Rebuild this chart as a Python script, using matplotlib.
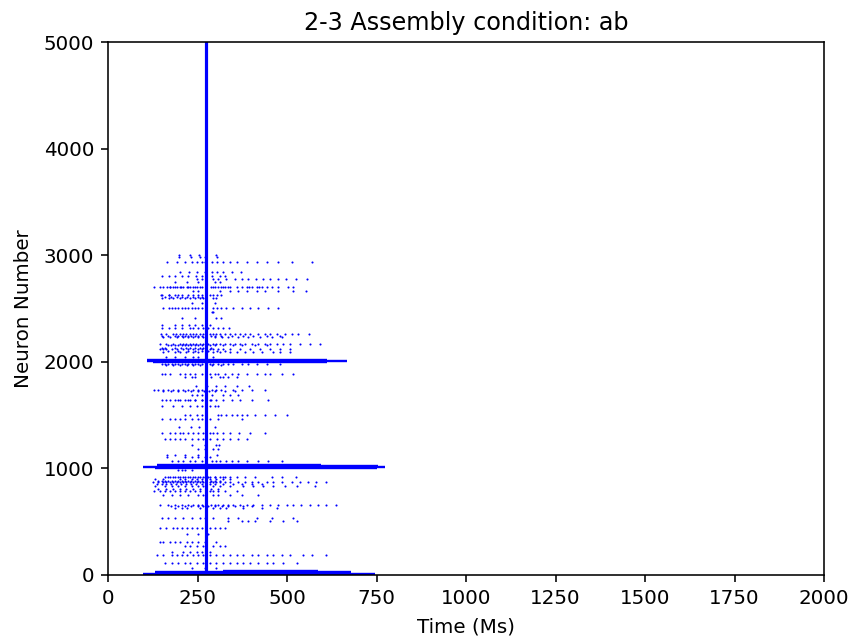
import matplotlib
matplotlib.use('Agg')
import matplotlib.pyplot as plt

# stimulus column, dense bands at the start of each 1000-neuron block
stim_time = 275
band_neurons = [2015, 2005, 1995, 1030, 1020, 1010, 1000, 36, 26, 12]
band_start = [108, 108, 125, 136, 136, 99, 130, 321, 131, 99]
band_end = [611, 667, 611, 595, 755, 774, 750, 587, 680, 745]

# neuron number of each sparse row, then its spike times (ms)
row_neurons = [3002, 2983, 2939, 2845, 2805, 2773, 2748, 2697, 2667, 2627, 2595, 2548, 2507, 2464, 2407,
               2345, 2314, 2260, 2236, 2167, 2117, 2089, 2048, 1979, 1883, 1860, 1776, 1733, 1686, 1642, 1585]
row_times = [
    [198, 229, 254, 302],
    [198, 231, 257, 271, 305],
    [166, 192, 215, 234, 248, 262, 271, 290, 305, 322, 341, 361, 387, 415, 443, 476, 513, 569],
    [201, 227, 248, 271, 290, 305, 322, 345, 371],
    [150, 169, 187, 206, 224, 246, 262, 290, 313, 327],
    [248, 262, 294, 308, 331, 355, 373, 392, 413, 434, 452, 476, 497, 524, 557],
    [187, 222, 252, 299, 313],
    [128, 145, 154, 164, 173, 182, 192, 201, 210, 220, 229, 238, 248, 257, 289, 299, 308, 317, 327, 341, 359, 373, 387, 401, 415, 429, 443, 457, 476, 503, 517],
    [238, 252, 313, 341, 364, 387, 415, 438, 476, 517, 553],
    [147, 152, 169, 171, 187, 196, 206, 224, 238, 252, 262, 285, 294, 305, 315],
    [150, 169, 182, 201, 215, 229, 243, 257, 266, 294, 301],
    [234, 262, 299],
    [153, 169, 178, 187, 196, 206, 215, 224, 234, 243, 252, 262, 294, 305, 317, 331, 350, 373, 397, 420, 448, 476],
    [290, 294],
    [208, 243, 302, 315],
    [152, 187, 206, 227, 243, 262, 285],
    [152, 169, 187, 206, 229, 238, 252, 266, 280, 294, 308, 322, 338],
    [147, 163, 182, 191, 201, 210, 219, 229, 238, 247, 257, 266, 285, 294, 303, 313, 327, 341, 355, 369, 382, 396, 420, 438, 452, 471, 494, 513, 531, 561],
    [154, 173, 192, 210, 224, 238, 252, 266, 299, 318, 336, 364, 392, 424, 457, 485],
    [145, 163, 182, 201, 210, 219, 229, 238, 247, 257, 266, 280, 294, 303, 313, 327, 341, 355, 369, 382, 401, 420, 438, 452, 471, 489, 508, 536, 564, 592],
    [145, 154, 163, 178, 192, 210, 224, 238, 252, 262, 285, 294, 308, 322, 341, 369, 396, 424, 452, 480, 508],
    [154, 187, 201, 219, 238, 252, 294, 313, 341, 359, 382, 405, 429, 461, 480, 508],
    [163, 187, 215, 238, 252, 294],
    [150, 159, 168, 178, 187, 196, 206, 215, 224, 234, 243, 252, 262, 285, 294, 308, 322, 336, 350, 373, 392, 415, 443, 480],
    [150, 159, 173, 201, 215, 229, 243, 262, 285, 299, 308, 327, 345, 364, 387, 415, 438, 452, 485, 517],
    [215, 234, 243, 289, 313, 322, 336, 359],
    [245, 277, 303, 327, 359, 394],
    [128, 140, 154, 168, 182, 196, 210, 224, 238, 252, 262, 290, 303, 317, 350, 373, 401, 438],
    [234, 248, 262, 290, 322, 341, 364],
    [152, 173, 187, 201, 215, 229, 243, 262, 285, 303, 322, 345, 369, 401, 448],
    [152, 182, 206, 229, 248, 262, 285, 299, 308],
]

lower_neurons = [1501, 1463, 1385, 1329, 1276, 1220, 1179, 1126, 1110, 1069, 985, 922, 901, 868, 835, 791,
                 755, 657, 631, 531, 510, 444, 385, 307, 272, 219, 188, 110, 68]
lower_times = [
    [215, 229, 248, 262, 308, 317, 331, 345, 359, 373, 387, 410, 438, 466, 499],
    [150, 173, 187, 201, 215, 234, 252, 262, 285, 308, 373],
    [198, 231, 254, 299],
    [152, 173, 187, 201, 210, 224, 238, 252, 266, 285, 294, 305, 322, 341, 367, 398, 438],
    [159, 173, 187, 201, 215, 234, 252, 266, 285, 305, 322, 341, 364, 387],
    [234, 271, 301, 311],
    [252, 271, 294, 308],
    [165, 187, 215, 252, 305],
    [164, 215, 234, 252, 271, 285],
    [178, 196, 210, 229, 243, 262, 290, 301, 313, 331, 345, 364, 387, 420, 448, 485],
    [196, 206, 215, 234],
    [159, 173, 187, 201, 215, 229, 243, 257, 271, 285, 299, 313, 327, 341, 359, 382, 410, 457, 485, 524],
    [131, 154, 201, 215, 234, 248, 262, 285, 303, 322, 341],
    [127, 140, 154, 163, 173, 182, 192, 201, 210, 219, 229, 238, 248, 257, 266, 285, 294, 303, 313, 327, 341, 364, 382, 401, 420, 443, 461, 485, 513, 536, 559, 582, 610],
    [131, 159, 178, 196, 215, 234, 252, 266, 294, 313, 341, 378, 405, 434, 461, 494, 527, 578],
    [128, 145, 159, 173, 187, 201, 215, 229, 243, 257, 285, 294, 308, 327, 359],
    [154, 178, 201, 224, 252, 266, 294, 308, 341, 373, 420],
    [145, 168, 187, 206, 224, 238, 252, 262, 289, 299, 308, 322, 336, 350, 369, 387, 406, 429, 452, 476, 499, 517, 540, 564, 587, 610, 638],
    [187, 206, 220, 257, 294, 313, 331, 378, 429, 471],
    [150, 168, 187, 210, 234, 257, 271, 294, 336, 364, 415, 457, 517],
    [336, 373, 392, 410, 452, 489, 527],
    [145, 163, 182, 192, 206, 220, 234, 248, 262, 285, 299, 313, 327],
    [221, 252, 280],
    [145, 154, 173, 187, 201, 220, 234, 252, 271, 303],
    [215, 229, 248, 266, 294, 313, 327],
    [178, 210, 229, 248, 262, 285],
    [136, 154, 178, 192, 206, 220, 238, 252, 266, 285, 303, 322, 341, 359, 378, 401, 420, 443, 461, 485, 508, 545, 569, 610],
    [159, 178, 196, 215, 229, 248, 266, 285, 303, 322, 341, 359, 378, 396, 420, 443, 461, 489, 527],
    [234, 271, 303],
]

# second dots that sit just beside the rows above in the busiest blocks
extra_neurons = [2705, 2605, 2245, 2160, 2130, 2100, 1970, 1725, 1640, 915, 885, 850, 810, 645]
extra_times = [
    [172, 186, 205, 224, 243, 262, 294, 322, 336, 394, 422],
    [159, 175, 192, 208, 222, 238, 250, 262],
    [150, 168, 186, 196, 206, 215, 224, 233, 243, 252, 262, 289, 299, 317, 345, 378, 406, 445, 480],
    [168, 177, 187, 196, 206, 215, 224, 233, 243, 252, 262, 285, 299, 322, 348, 375, 410, 445],
    [150, 159, 187, 205, 217, 229, 243, 257, 266, 289],
    [168, 196, 224, 243, 262, 280, 304, 327],
    [163, 182, 201, 220, 238, 257, 291, 315],
    [154, 177, 196, 215, 233, 252, 268, 283, 299, 327, 355],
    [163, 196, 224, 243, 262, 289],
    [168, 182, 196, 210, 224, 238, 252, 266, 280, 299, 322],
    [140, 150, 159, 168, 178, 187, 196, 206, 215, 224, 233, 243, 252, 262, 289, 299, 313],
    [136, 150, 163, 177, 191, 205, 219, 233, 247, 262, 285, 299, 322, 350, 375, 401, 429],
    [140, 163, 182, 201, 219, 238, 257, 289, 308],
    [177, 196, 215, 233, 252, 266, 280, 299, 318, 336, 355, 378, 401],
]

fig = plt.figure(figsize=(851 / 143, 636 / 143), dpi=143)
ax = fig.add_axes([108 / 851, 61 / 636, 716 / 851, 533 / 636])

for n, times in zip(row_neurons + lower_neurons + extra_neurons, row_times + lower_times + extra_times):
    ax.plot(times, [n] * len(times), '.', color='b', markersize=2.1, markeredgewidth=0)

ax.hlines(band_neurons, band_start, band_end, color='b', linewidth=1.2)
ax.axvline(stim_time, color='b', linewidth=1.6)

ax.set_xlim(0, 2000)
ax.set_ylim(0, 5000)
ax.set_title('2-3 Assembly condition: ab')
ax.set_xlabel('Time (Ms)', labelpad=4.8)
ax.set_ylabel('Neuron Number', labelpad=5.5)
fig.savefig('out.png', dpi=143)
